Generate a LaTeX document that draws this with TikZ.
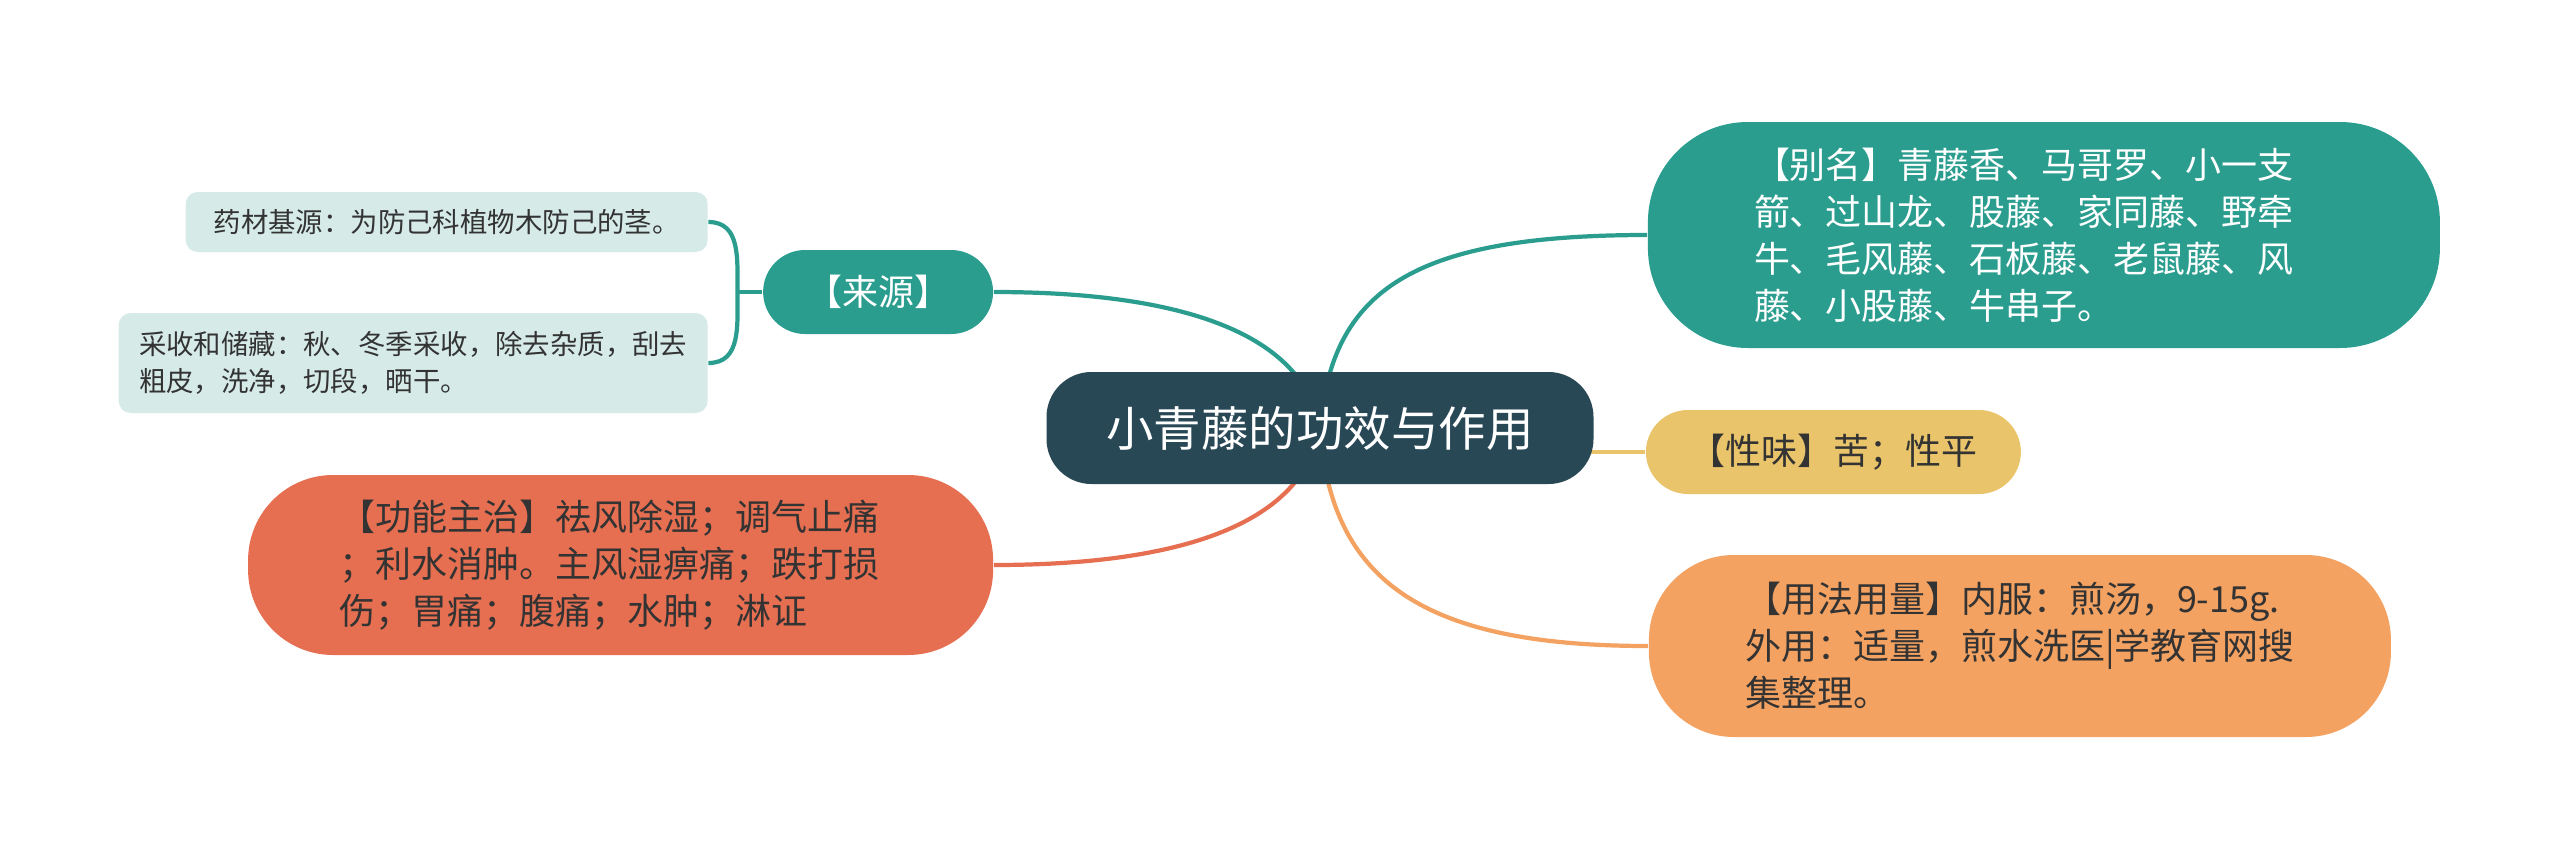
\documentclass[tikz,border=0pt]{standalone}
\usepackage{fontspec}
\setmainfont{Noto Sans CJK SC}
\usetikzlibrary{positioning,backgrounds}

\definecolor{rootbg}{RGB}{40,72,86}
\definecolor{teal1}{HTML}{2A9D8F}
\definecolor{sand}{HTML}{E9C46A}
\definecolor{peach}{HTML}{F4A261}
\definecolor{coral}{HTML}{E76F51}
\definecolor{mint}{HTML}{D6EBE8}
\definecolor{ink}{HTML}{333333}

\begin{document}
\begin{tikzpicture}[
    root/.style={fill=rootbg,text=white,rounded corners=0.45cm,inner sep=0pt,
      minimum width=5.47cm,minimum height=1.12cm,font=\fontsize{13.5pt}{16pt}\selectfont},
    topic/.style={inner sep=0pt,align=left,font=\fontsize{10.24pt}{13.4pt}\selectfont},
    leaf/.style={fill=mint,text=ink,rounded corners=0.12cm,inner sep=0pt,align=left,
      font=\fontsize{7.8pt}{10.7pt}\selectfont},
    tealink/.style={draw=teal1,line width=1.2pt},
    sandlink/.style={draw=sand,line width=1.2pt},
    peachlink/.style={draw=peach,line width=1.2pt},
    corallink/.style={draw=coral,line width=1.2pt}]

  \useasboundingbox (0,0) rectangle (25.6,-8.57);

  \node[root] (centre) at (13.2,-4.28) {小青藤的功效与作用};

  \node[topic,fill=teal1,text=white,rounded corners=1cm,minimum width=7.92cm,
    minimum height=2.26cm,right=0.53cm of centre,yshift=1.93cm] (bieming)
    {【别名】青藤香、马哥罗、小一支\hspace*{0.4cm}\\箭、过山龙、股藤、家同藤、野牵\\牛、毛风藤、石板藤、老鼠藤、风\\藤、小股藤、牛串子。};
  \node[topic,fill=sand,text=ink,rounded corners=0.42cm,minimum width=3.75cm,
    minimum height=0.84cm,right=0.51cm of centre,yshift=-0.24cm] (xingwei)
    {【性味】苦；性平};
  \node[topic,fill=peach,text=ink,rounded corners=0.85cm,minimum width=7.42cm,
    minimum height=1.82cm,right=0.54cm of centre,yshift=-2.18cm] (yongfa)
    {【用法用量】内服：煎汤，9-15g.\\外用：适量，煎水洗医|学教育网搜\hspace*{0.22cm}\\集整理。};
  \node[topic,fill=coral,text=ink,rounded corners=0.85cm,minimum width=7.45cm,
    minimum height=1.80cm,left=0.52cm of centre,yshift=-1.37cm] (gongneng)
    {【功能主治】祛风除湿；调气止痛\hspace*{0.22cm}\\；利水消肿。主风湿痹痛；跌打损\\伤；胃痛；腹痛；水肿；淋证};
  \node[topic,fill=teal1,text=white,rounded corners=0.42cm,minimum width=2.3cm,
    minimum height=0.84cm,left=0.52cm of centre,yshift=1.36cm] (laiyuan)
    {【来源】};

  \node[leaf,minimum width=5.22cm,minimum height=0.6cm,
    left=0.54cm of laiyuan,yshift=0.7cm] (jiyuan)
    {药材基源：为防己科植物木防己的茎。};
  \node[leaf,minimum width=5.89cm,minimum height=1cm,
    left=0.54cm of laiyuan,yshift=-0.71cm] (caishou)
    {采收和储藏：秋、冬季采收，除去杂质，刮去\\粗皮，洗净，切段，晒干。};
  \coordinate[left=0.25cm of laiyuan] (fork);

  \begin{scope}[on background layer]
    \path (centre.center) edge[tealink,out=85,in=180,out looseness=0.93,in looseness=1.59] (bieming.west)
                          edge[tealink,out=100,in=0,out looseness=0.64,in looseness=1.49] (laiyuan.east)
                          edge[corallink,out=260,in=0,out looseness=0.64,in looseness=1.49] (gongneng.east)
                          edge[peachlink,out=-86,in=180,out looseness=0.99,in looseness=1.48] (yongfa.west);
    \path (centre.center |- xingwei.west) edge[sandlink] (xingwei.west);
    \path (jiyuan.east) edge[tealink,out=0,in=90,looseness=1.1] (fork);
    \path (fork) edge[tealink,out=-90,in=0,looseness=1.1] (caishou.east)
                 edge[tealink] (laiyuan.west);
  \end{scope}
\end{tikzpicture}
\end{document}
